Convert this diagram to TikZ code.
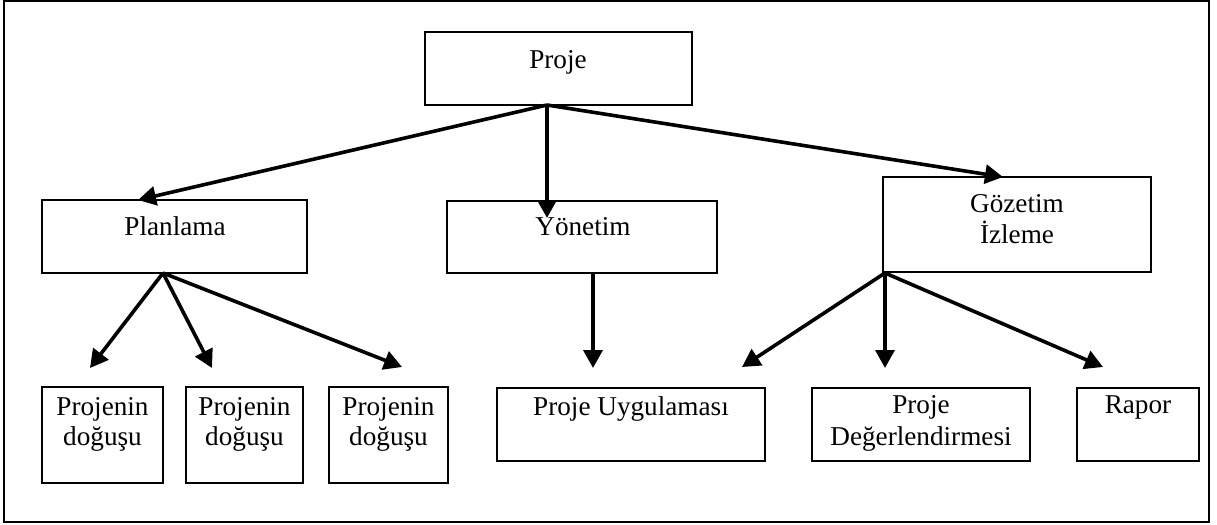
\documentclass[tikz,border=0pt]{standalone}
\usepackage{fontspec}
\setmainfont{Liberation Serif}
\usetikzlibrary{arrows.meta,fit}
\begin{document}
\begin{tikzpicture}[x=0.5pt,y=-0.5pt,
  box/.style={draw, line width=1.4pt, inner sep=0pt},
  txt/.style={anchor=base, inner sep=0pt, font=\fontsize{13.6}{15}\selectfont},
  arr/.style={line width=1.8pt, -{Triangle[length=9pt,width=9.5pt]}}]
\useasboundingbox (0,0) rectangle (1217,525);

% outer frame
\node[draw, line width=1.1pt, inner sep=0pt, fit={(4,1)(1209,522)}] (frame) {};

% boxes
\node[box, fit={(425,32)(692,105)}] (proje) {};
\node[box, fit={(42,200)(307,273)}] (plan) {};
\node[box, fit={(447,201)(717,273)}] (yon) {};
\node[box, fit={(883,177)(1151,272)}] (goz) {};
\node[box, fit={(42,387)(163,483)}] (d1) {};
\node[box, fit={(186,387)(303,483)}] (d2) {};
\node[box, fit={(329,387)(448,483)}] (d3) {};
\node[box, fit={(497,388)(765,461)}] (uyg) {};
\node[box, fit={(812,388)(1030,461)}] (deg) {};
\node[box, fit={(1077,388)(1199,461)}] (rapor) {};

% labels
\node[txt] (tproje) at (558,68) {Proje};
\node[txt] (tplan) at (175,235) {Planlama};
\node[txt] (tyon) at (583,235) {Yönetim};
\node[txt] (tgoz1) at (1017,212) {Gözetim};
\node[txt] (tgoz2) at (1017,243) {İzleme};
\node[txt] (td1a) at (102.5,415) {Projenin};
\node[txt] (td1b) at (102.5,445) {doğuşu};
\node[txt] (td2a) at (244.5,415) {Projenin};
\node[txt] (td2b) at (244.5,445) {doğuşu};
\node[txt] (td3a) at (388.5,415) {Projenin};
\node[txt] (td3b) at (388.5,445) {doğuşu};
\node[txt] (tuyg) at (631,415) {Proje Uygulaması};
\node[txt] (tdega) at (921,413) {Proje};
\node[txt] (tdegb) at (921,445) {Değerlendirmesi};
\node[txt] (trap) at (1138,413) {Rapor};

% connector start and end points
\coordinate (pj) at (547,105);
\coordinate (plo) at (163,273);
\coordinate (yo) at (593,273);
\coordinate (go) at (885,273);
\coordinate (planin) at (138,200);
\coordinate (yonin) at (547,218);
\coordinate (gozin) at (1003,177);
\coordinate (d1in) at (90,368);
\coordinate (d2in) at (212,368);
\coordinate (d3in) at (402,367);
\coordinate (uygin) at (593,368);
\coordinate (uygin2) at (742,367);
\coordinate (degin) at (885,368);
\coordinate (rapin) at (1103,367);

% connectors
\draw[arr] (pj) -- (planin);
\draw[arr] (pj) -- (yonin);
\draw[arr] (pj) -- (gozin);
\draw[arr] (plo) -- (d1in);
\draw[arr] (plo) -- (d2in);
\draw[arr] (plo) -- (d3in);
\draw[arr] (yo) -- (uygin);
\draw[arr] (go) -- (uygin2);
\draw[arr] (go) -- (degin);
\draw[arr] (go) -- (rapin);
\end{tikzpicture}
\end{document}
